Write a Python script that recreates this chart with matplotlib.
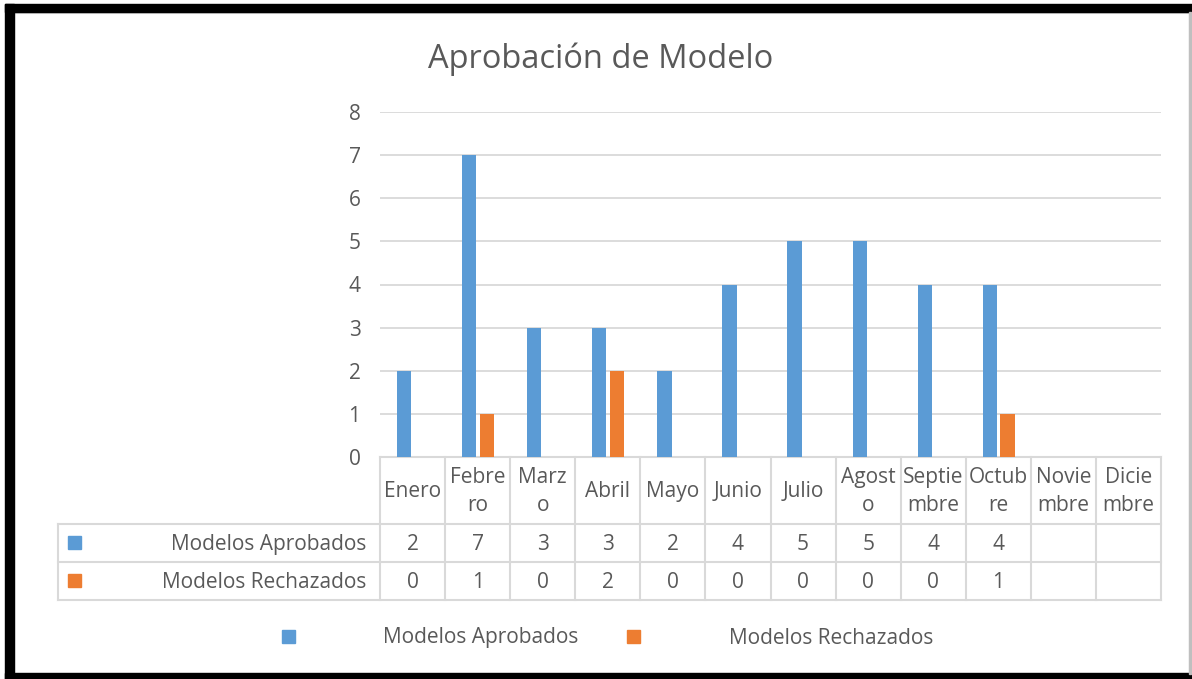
import numpy as np
import matplotlib.pyplot as plt
from matplotlib.patches import Rectangle
from matplotlib.transforms import blended_transform_factory

plt.rcParams['font.family'] = ['Open Sans', 'DejaVu Sans']

meses = ['Enero', 'Febre\nro', 'Marz\no', 'Abril', 'Mayo', 'Junio', 'Julio',
         'Agost\no', 'Septie\nmbre', 'Octub\nre', 'Novie\nmbre', 'Dicie\nmbre']
aprobados = [2, 7, 3, 3, 2, 4, 5, 5, 4, 4]
rechazados = [0, 1, 0, 2, 0, 0, 0, 0, 0, 1]
series = ['Modelos Aprobados', 'Modelos Rechazados']
colores = ['#5B9BD5', '#ED7D31']
gris = '#595959'
linea = '#D9D9D9'

W, H = 1192, 679
fig = plt.figure(figsize=(W / 100, H / 100), dpi=100)

def fx(px):
    return px / W

def fy(py):
    return 1 - py / H

ax = fig.add_axes([fx(380), fy(457), fx(1161) - fx(380), fy(112) - fy(457)])

x = np.arange(len(aprobados))
ax.bar(x - 0.13, aprobados, width=0.22, color=colores[0], zorder=3)
ax.bar(x + 0.14, rechazados, width=0.22, color=colores[1], zorder=3)

ax.set_xlim(-0.5, len(meses) - 0.5)
ax.set_ylim(0, 8)
ax.set_yticks(range(0, 9))
ax.set_xticks([])
ax.yaxis.grid(True, color=linea, linewidth=1.3, zorder=0)
for s in ax.spines.values():
    s.set_visible(False)
ax.tick_params(axis='y', length=0, pad=14, labelsize=15, labelcolor=gris)

# tabla de datos
tr = blended_transform_factory(ax.transData, ax.transAxes)
n = len(meses)
izq = -5.45
y_rows = [0, -0.194, -0.304, -0.4145]
kw = dict(color=linea, linewidth=1.5, transform=tr, clip_on=False, zorder=2)
ax.plot([-0.5, n - 0.5], [0, 0], **kw)
for yy in y_rows[1:]:
    ax.plot([izq, n - 0.5], [yy, yy], **kw)
for k in range(n + 1):
    ax.plot([k - 0.5, k - 0.5], [0, y_rows[-1]], **kw)
ax.plot([izq, izq], [y_rows[1], y_rows[-1]], **kw)

for i, m in enumerate(meses):
    ax.text(i, -0.101, m, transform=tr, ha='center', va='center', fontsize=15,
            color=gris, linespacing=1.42)

filas = [aprobados, rechazados]
y_centros = [-0.249, -0.359]
for fila, yc, nombre, c in zip(filas, y_centros, series, colores):
    for i, v in enumerate(fila):
        ax.text(i, yc - 0.005, str(v), transform=tr, ha='center', va='center',
                fontsize=15, color=gris)
    ax.text(-0.715, yc - 0.005, nombre, transform=tr, ha='right', va='center',
            fontsize=15, color=gris)
    ax.add_patch(Rectangle((-5.29, yc - 0.019), 0.2, 0.038, transform=tr,
                           color=c, clip_on=False))

# titulo
fig.text(fx(601), fy(59), 'Aprobación de Modelo', ha='center', va='center',
         fontsize=23.5, color=gris)

# leyenda
for sx, tx, nombre, c in zip([282, 627], [383, 729], series, colores):
    fig.patches.append(Rectangle((fx(sx), fy(643)), fx(13), 13 / H,
                                 transform=fig.transFigure, color=c))
    fig.text(fx(tx), fy(638), nombre, ha='left', va='center', fontsize=15,
             color=gris)

# marco
fig.patches.append(Rectangle((fx(14), fy(674)), fx(1176), fy(13) - fy(674),
                             transform=fig.transFigure, fill=False,
                             edgecolor='#D9D9D9', linewidth=1.5))
for r in [(5, 4, 1187, 8), (5, 4, 9, 675), (5, 673, 1187, 6)]:
    fig.patches.append(Rectangle((fx(r[0]), fy(r[1] + r[3])), fx(r[2]), r[3] / H,
                                 transform=fig.transFigure, color='black'))
fig.patches.append(Rectangle((fx(1189), fy(674)), fx(1.5), fy(12) - fy(674),
                             transform=fig.transFigure, color='#BFBFBF'))

fig.savefig('out.png', dpi=100)
